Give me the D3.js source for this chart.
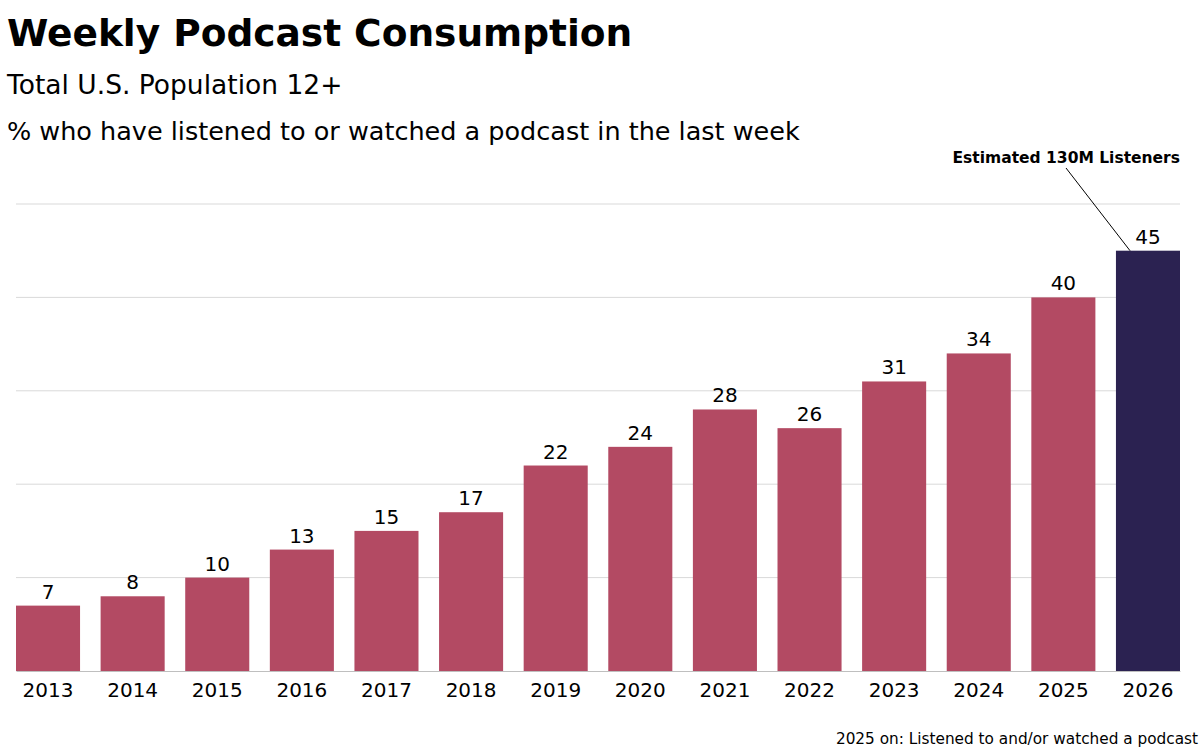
<!DOCTYPE html>
<html>
<head>
<meta charset="utf-8">
<script src="https://cdn.jsdelivr.net/npm/d3@7"></script>
<style>
  body { margin: 0; background: #fff; }
  text { font-family: "DejaVu Sans", sans-serif; }
</style>
</head>
<body>
<div id="chart"></div>
<script>
const years = ["2013", "2014", "2015", "2016", "2017", "2018", "2019", "2020", "2021", "2022", "2023", "2024", "2025", "2026"];
const shares = [7, 8, 10, 13, 15, 17, 22, 24, 28, 26, 31, 34, 40, 45];
const gridTicks = [10, 20, 30, 40, 50];

const width = 1200;
const height = 750;
const margin = {top: 204, right: 20, bottom: 79, left: 16};

const svg = d3.select("#chart")
    .append("svg")
    .attr("width", width)
    .attr("height", height);

const x = d3.scaleBand()
    .domain(years)
    .range([margin.left, width - margin.right])
    .paddingInner(0.243)
    .paddingOuter(0);

const y = d3.scaleLinear()
    .domain([0, 50])
    .range([height - margin.bottom, margin.top]);

// titles
svg.append("text")
    .attr("x", 7).attr("y", 46)
    .attr("font-size", 37.5).attr("font-weight", "bold")
    .attr("fill", "#000")
    .text("Weekly Podcast Consumption");

svg.append("text")
    .attr("x", 7).attr("y", 94)
    .attr("font-size", 26.5)
    .attr("fill", "#000")
    .text("Total U.S. Population 12+");

svg.append("text")
    .attr("x", 7).attr("y", 140)
    .attr("font-size", 25.5)
    .attr("fill", "#000")
    .text("% who have listened to or watched a podcast in the last week");

// gridlines
svg.append("g")
    .selectAll("line")
    .data(gridTicks)
    .join("line")
    .attr("x1", margin.left)
    .attr("x2", width - margin.right)
    .attr("y1", d => y(d))
    .attr("y2", d => y(d))
    .attr("stroke", "#d9d9d9")
    .attr("stroke-width", 1);

// bars
svg.append("g")
    .selectAll("rect")
    .data(shares)
    .join("rect")
    .attr("x", (d, i) => x(years[i]))
    .attr("y", d => y(d))
    .attr("width", x.bandwidth())
    .attr("height", d => y(0) - y(d))
    .attr("fill", (d, i) => i === years.length - 1 ? "#2b2251" : "#b34a63");

// value labels
svg.append("g")
    .selectAll("text")
    .data(shares)
    .join("text")
    .attr("x", (d, i) => x(years[i]) + x.bandwidth() / 2)
    .attr("y", d => y(d) - 7)
    .attr("text-anchor", "middle")
    .attr("font-size", 20)
    .attr("fill", "#000")
    .text(d => d);

// x axis
function xAxis(g) {
    g.attr("transform", `translate(0, ${y(0)})`)
     .call(d3.axisBottom(x).tickSize(0).tickPadding(12))
     .attr("font-size", 20);
    g.select(".domain").attr("stroke", "#bfbfbf");
    g.selectAll("text").attr("fill", "#000").attr("font-family", "DejaVu Sans, sans-serif");
}
svg.append("g").call(xAxis);

// annotation for last bar
const last = years.length - 1;
const lastX = x(years[last]) + x.bandwidth() * 0.22;
svg.append("line")
    .attr("x1", 1066).attr("y1", 168)
    .attr("x2", lastX).attr("y2", y(shares[last]))
    .attr("stroke", "#000")
    .attr("stroke-width", 1);

svg.append("text")
    .attr("x", width - margin.right).attr("y", 163)
    .attr("text-anchor", "end")
    .attr("font-size", 15.5).attr("font-weight", "bold")
    .attr("fill", "#000")
    .text("Estimated 130M Listeners");

svg.append("text")
    .attr("x", width - 2).attr("y", 744)
    .attr("text-anchor", "end")
    .attr("font-size", 15.3)
    .attr("fill", "#000")
    .text("2025 on: Listened to and/or watched a podcast");
</script>
</body>
</html>
